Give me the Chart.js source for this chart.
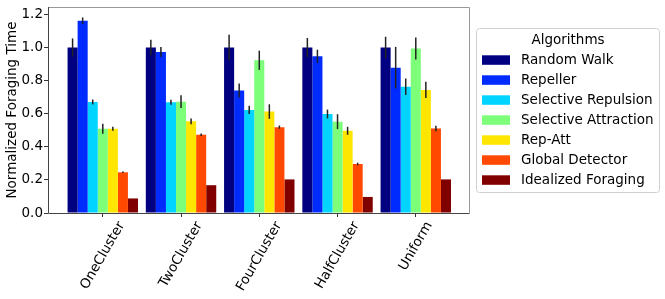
<!DOCTYPE html>
<html>
<head>
<meta charset="utf-8">
<script src="https://cdn.jsdelivr.net/npm/chart.js@4.4.0/dist/chart.umd.min.js"></script>
<style>
  body { margin: 0; background: #fff; }
  canvas { display: block; }
</style>
</head>
<body>
<canvas id="myChart" width="665" height="299"></canvas>
<script>
const categories = ["OneCluster", "TwoCluster", "FourCluster", "HalfCluster", "Uniform"];
const algorithms = ["Random Walk", "Repeller", "Selective Repulsion", "Selective Attraction", "Rep-Att", "Global Detector", "Idealized Foraging"];
const yTicks = [0, 0.2, 0.4, 0.6, 0.8, 1.0, 1.2];

// mean values, one array per algorithm (order = categories)
const randomWalk = [1.0, 1.0, 1.0, 1.0, 1.0];
const repeller = [1.162, 0.973, 0.740, 0.947, 0.878];
const selRepulsion = [0.671, 0.669, 0.623, 0.598, 0.763];
const selAttraction = [0.509, 0.673, 0.923, 0.552, 0.994];
const repAtt = [0.509, 0.554, 0.613, 0.497, 0.744];
const globalDetector = [0.246, 0.473, 0.519, 0.296, 0.511];
const idealized = [0.088, 0.168, 0.203, 0.097, 0.203];

// error bar half lengths
const randomWalkErr = [0.055, 0.047, 0.077, 0.058, 0.065];
const repellerErr = [0.02, 0.03, 0.042, 0.04, 0.126];
const selRepulsionErr = [0.015, 0.015, 0.025, 0.027, 0.05];
const selAttractionErr = [0.03, 0.038, 0.058, 0.045, 0.066];
const repAttErr = [0.012, 0.017, 0.044, 0.024, 0.049];
const globalDetectorErr = [0.005, 0.008, 0.01, 0.008, 0.017];
const idealizedErr = [0, 0, 0, 0, 0];

const series = [randomWalk, repeller, selRepulsion, selAttraction, repAtt, globalDetector, idealized];
const errors = [randomWalkErr, repellerErr, selRepulsionErr, selAttractionErr, repAttErr, globalDetectorErr, idealizedErr];
const barColors = ["#000080", "#002bff", "#00d4ff", "#7dff7a", "#ffe600", "#ff4800", "#800000"];

const FONT = "DejaVu Sans";
Chart.defaults.font.family = FONT;
Chart.defaults.font.size = 13.5;
Chart.defaults.color = "#000";

// error bars
const errorBars = {
  id: "errorBars",
  afterDatasetsDraw(chart) {
    const ctx = chart.ctx;
    const y = chart.scales.y;
    ctx.save();
    ctx.strokeStyle = "#222";
    ctx.lineWidth = 1.5;
    chart.data.datasets.forEach((ds, d) => {
      const meta = chart.getDatasetMeta(d);
      meta.data.forEach((bar, i) => {
        const e = errors[d][i];
        if (!e) return;
        const v = series[d][i];
        ctx.beginPath();
        ctx.moveTo(bar.x, y.getPixelForValue(v - e));
        ctx.lineTo(bar.x, y.getPixelForValue(v + e));
        ctx.stroke();
      });
    });
    ctx.restore();
  }
};

// frame, rotated category labels and legend
const decorations = {
  id: "decorations",
  afterDraw(chart) {
    const ctx = chart.ctx;
    const a = chart.chartArea;
    const x = chart.scales.x;
    ctx.save();

    ctx.lineWidth = 1;
    ctx.strokeStyle = "#999";
    ctx.beginPath();
    ctx.moveTo(a.left, a.top + 0.5);
    ctx.lineTo(a.right + 0.5, a.top + 0.5);
    ctx.lineTo(a.right + 0.5, a.bottom);
    ctx.stroke();
    ctx.strokeStyle = "#444";
    ctx.beginPath();
    ctx.moveTo(a.left + 0.5, a.top);
    ctx.lineTo(a.left + 0.5, a.bottom + 0.5);
    ctx.lineTo(a.right + 0.5, a.bottom + 0.5);
    ctx.stroke();

    // x labels, rotated 60 degrees and centred under the tick
    ctx.font = "13.5px '" + FONT + "'";
    ctx.fillStyle = "#000";
    ctx.textAlign = "center";
    ctx.textBaseline = "middle";
    const ang = Math.PI / 3;
    categories.forEach((c, i) => {
      const w = ctx.measureText(c).width;
      const ext = Math.sin(ang) * w + Math.cos(ang) * 15.7;
      const px = x.getPixelForValue(i);
      ctx.save();
      ctx.translate(px, a.bottom + 6 + ext / 2);
      ctx.rotate(-ang);
      ctx.fillText(c, 0, 0);
      ctx.restore();
    });

    // legend
    const lx = 476.5, ly = 28.5, lw = 183, lh = 164;
    ctx.beginPath();
    ctx.roundRect(lx, ly, lw, lh, 3);
    ctx.fillStyle = "rgba(255,255,255,0.8)";
    ctx.fill();
    ctx.strokeStyle = "#d0d0d0";
    ctx.stroke();
    ctx.fillStyle = "#000";
    ctx.textAlign = "center";
    ctx.fillText("Algorithms", lx + lw / 2, 40.7);
    ctx.textAlign = "left";
    algorithms.forEach((name, i) => {
      const cy = 60 + i * 20;
      ctx.fillStyle = barColors[i];
      ctx.fillRect(482, cy - 4.7, 28, 9.5);
      ctx.fillStyle = "#000";
      ctx.fillText(name, 521, cy + 0.5);
    });
    ctx.restore();
  }
};

new Chart("myChart", {
  type: "bar",
  data: {
    datasets: algorithms.map((name, d) => ({
      label: name,
      data: series[d].map((v, i) => ({ x: i, y: v })),
      backgroundColor: barColors[d],
      borderWidth: 0,
      categoryPercentage: 0.9,
      barPercentage: 1.0
    }))
  },
  options: {
    responsive: false,
    animation: false,
    devicePixelRatio: 1,
    layout: { padding: { top: 7, right: 196, left: 0, bottom: 0 } },
    plugins: {
      legend: { display: false },
      tooltip: { enabled: false }
    },
    scales: {
      x: {
        type: "linear",
        offset: false,
        min: -0.7,
        max: 4.68,
        afterBuildTicks: (s) => { s.ticks = categories.map((c, i) => ({ value: i })); },
        afterFit: (s) => { s.height = 86; s.paddingLeft = 0; s.paddingRight = 0; },
        ticks: { display: false },
        grid: { offset: false, drawOnChartArea: false, drawTicks: true, tickLength: 4, color: "#333" },
        border: { display: false }
      },
      y: {
        min: 0,
        max: 1.245,
        afterBuildTicks: (s) => { s.ticks = yTicks.map(v => ({ value: v })); },
        afterFit: (s) => { s.width = 48; s.paddingTop = 0; s.paddingBottom = 0; },
        ticks: {
          padding: 1,
          callback: (v) => Number(v).toFixed(1)
        },
        grid: { drawOnChartArea: false, drawTicks: true, tickLength: 4, color: "#333" },
        border: { display: false },
        title: {
          display: true,
          text: "Normalized Foraging Time",
          padding: { top: 4, bottom: 0 }
        }
      }
    }
  },
  plugins: [errorBars, decorations]
});
</script>
</body>
</html>
